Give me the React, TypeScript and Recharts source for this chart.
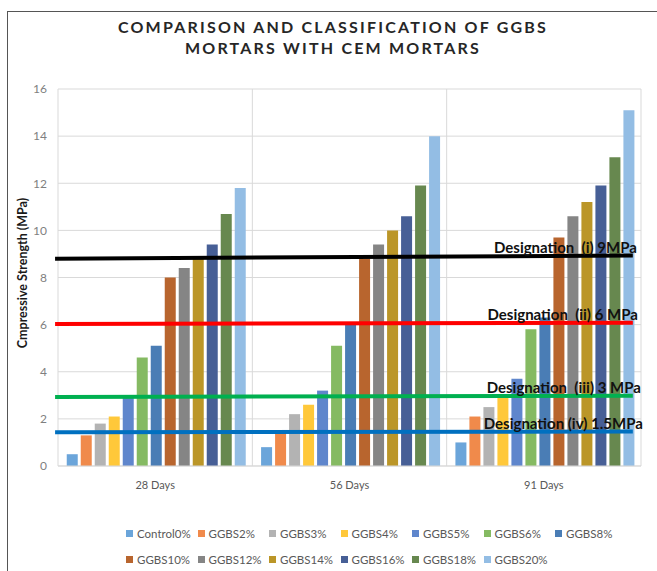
import React from 'react';
import {
  BarChart,
  Bar,
  XAxis,
  YAxis,
  CartesianGrid,
  ReferenceLine,
  Label,
} from 'recharts';

const categories = ['28 Days', '56 Days', '91 Days'];

const seriesNames = [
  'Control0%', 'GGBS2%', 'GGBS3%', 'GGBS4%', 'GGBS5%', 'GGBS6%', 'GGBS8%',
  'GGBS10%', 'GGBS12%', 'GGBS14%', 'GGBS16%', 'GGBS18%', 'GGBS20%',
];

const seriesColors = [
  '#6BA5DA', '#F08A4B', '#B3B3B3', '#FFC83A', '#5F86CC', '#85BA62', '#4A7DB5',
  '#B8652E', '#858585', '#BB9628', '#475F96', '#67884F', '#93BDE4',
];

const control0 = [0.5, 0.8, 1.0];
const ggbs2 = [1.3, 1.4, 2.1];
const ggbs3 = [1.8, 2.2, 2.5];
const ggbs4 = [2.1, 2.6, 2.9];
const ggbs5 = [2.9, 3.2, 3.7];
const ggbs6 = [4.6, 5.1, 5.8];
const ggbs8 = [5.1, 6.0, 6.3];
const ggbs10 = [8.0, 8.8, 9.7];
const ggbs12 = [8.4, 9.4, 10.6];
const ggbs14 = [8.8, 10.0, 11.2];
const ggbs16 = [9.4, 10.6, 11.9];
const ggbs18 = [10.7, 11.9, 13.1];
const ggbs20 = [11.8, 14.0, 15.1];

const seriesValues = [
  control0, ggbs2, ggbs3, ggbs4, ggbs5, ggbs6, ggbs8,
  ggbs10, ggbs12, ggbs14, ggbs16, ggbs18, ggbs20,
];

const yTicks = [0, 2, 4, 6, 8, 10, 12, 14, 16];

// designation threshold lines (drawn slightly sloped, as in the original)
// x positions on a hidden 0..2 axis spanning the plot width
const designationLabels = [
  'Designation  (i) 9MPa',
  'Designation  (ii) 6 MPa',
  'Designation  (iii) 3 MPa',
  'Designation (iv) 1.5MPa',
];
const designationStart = [8.8, 6.03, 2.93, 1.43];
const designationEnd = [8.93, 6.08, 2.98, 1.46];
const designationColors = ['#000000', '#FF0000', '#00B050', '#0070C0'];
const designationLabelDx = [4, 5, 8, 10];
const lineFrom = -0.01;
const lineTo = 1.972;

const data = categories.map((cat, i) => {
  const row: Record<string, string | number> = { name: cat };
  seriesNames.forEach((s, j) => {
    row[s] = seriesValues[j][i];
  });
  return row;
});

const FONT = 'Lato, "Open Sans", sans-serif';

const ChartLegend = () => (
  <div
    style={{
      position: 'absolute',
      left: 126,
      top: 520,
      display: 'flex',
      flexWrap: 'wrap',
      width: 520,
      fontFamily: FONT,
    }}
  >
    {seriesNames.map((s, j) => (
      <div
        key={s}
        style={{
          width: 71.5,
          height: 26,
          display: 'flex',
          alignItems: 'center',
          fontSize: 11.5,
          color: '#595959',
          whiteSpace: 'nowrap',
        }}
      >
        <span style={{ width: 7, height: 7, background: seriesColors[j], marginRight: 4, display: 'inline-block' }} />
        {s}
      </div>
    ))}
  </div>
);

export default function App() {
  return (
    <div style={{ position: 'absolute', left: 0, top: 0, width: 657, height: 571, background: '#fff', overflow: 'hidden' }}>
      <div
        style={{
          position: 'absolute',
          left: 7,
          top: 11,
          right: -2,
          bottom: -2,
          borderTop: '1.5px solid #555',
          borderLeft: '1.5px solid #555',
        }}
      />
      <div
        style={{
          position: 'absolute',
          left: 0,
          width: 666,
          top: 16,
          textAlign: 'center',
          fontFamily: FONT,
          fontWeight: 700,
          fontSize: 16,
          letterSpacing: 2.2,
          lineHeight: '21px',
          color: '#262626',
        }}
      >
        COMPARISON AND CLASSIFICATION OF GGBS
        <br />
        MORTARS WITH CEM MORTARS
      </div>
      <div style={{ position: 'absolute', left: 0, top: 0 }}>
        <BarChart
          width={657}
          height={571}
          data={data}
          margin={{ top: 89, right: 16, left: 18, bottom: 75 }}
          barCategoryGap="4.5%"
          barGap={3}
        >
          <CartesianGrid
            stroke="#D9D9D9"
            verticalCoordinatesGenerator={(props: any) => {
              const off = props.offset || { left: 58, width: 583 };
              return [0, 1, 2, 3].map((i) => off.left + (i * off.width) / 3);
            }}
          />
          <XAxis
            dataKey="name"
            axisLine={{ stroke: '#D9D9D9' }}
            tickLine={false}
            height={30}
            tickMargin={9}
            tick={{ fill: '#595959', fontSize: 11, fontFamily: FONT }}
          />
          <XAxis xAxisId="num" type="number" domain={[0, 2]} allowDataOverflow hide />
          <YAxis
            width={40}
            domain={[0, 16]}
            ticks={yTicks}
            axisLine={false}
            tickLine={false}
            tickMargin={5}
            tick={{ fill: '#7F7F7F', fontSize: 12, fontFamily: FONT }}
          >
            <Label
              content={() => (
                <text
                  x={22}
                  y={273}
                  transform="rotate(-90 22 273)"
                  textAnchor="middle"
                  dominantBaseline="central"
                  fontFamily={FONT}
                  fontWeight={700}
                  fontSize={12.5}
                  fill="#1a1a1a"
                >
                  Cmpressive Strength (MPa)
                </text>
              )}
            />
          </YAxis>
          {seriesNames.map((s, j) => (
            <Bar key={s} dataKey={s} name={s} fill={seriesColors[j]} isAnimationActive={false} />
          ))}
          {designationLabels.map((lbl, k) => (
            <ReferenceLine
              key={lbl}
              xAxisId="num"
              ifOverflow="visible"
              segment={[
                { x: lineFrom, y: designationStart[k] },
                { x: lineTo, y: designationEnd[k] },
              ]}
              stroke={designationColors[k]}
              strokeWidth={4}
              label={{
                content: (props: any) => {
                  const vb = props.viewBox || {};
                  const xr = (vb.x || 0) + (vb.width || 0) + designationLabelDx[k];
                  return (
                    <text
                      x={xr}
                      y={(vb.y || 0) - 9}
                      textAnchor="end"
                      dominantBaseline="central"
                      fontFamily={FONT}
                      fontWeight={700}
                      fontSize={15}
                      fill="#111"
                      style={{ whiteSpace: 'pre' }}
                    >
                      {lbl}
                    </text>
                  );
                },
              }}
            />
          ))}
        </BarChart>
      </div>
      <ChartLegend />
    </div>
  );
}
